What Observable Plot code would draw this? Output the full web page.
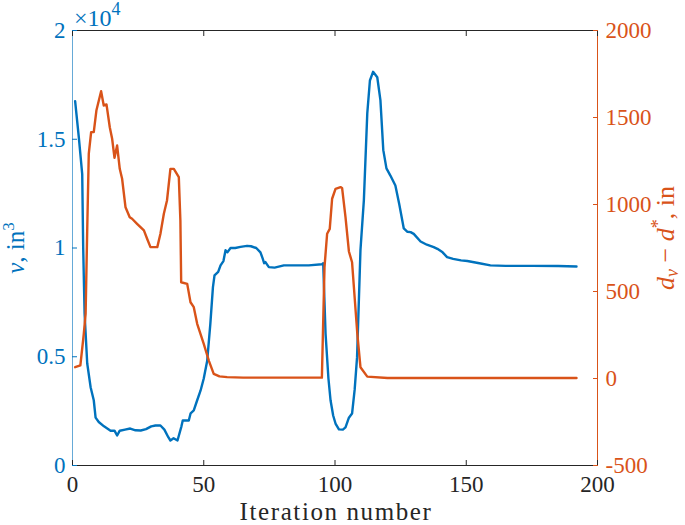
<!DOCTYPE html>
<html><head><meta charset="utf-8">
<script src="https://cdn.jsdelivr.net/npm/d3@7"></script>
<script src="https://cdn.jsdelivr.net/npm/@observablehq/plot@0.6"></script>
<style>body{margin:0;background:#fff} svg{display:block}</style>
</head><body><div id="chart"></div>
<script>
// Blue series: volume v (in^3) per iteration
const vIter = [1,2.4,3.7,4.07,4.6,5.6,6.9,8.1,8.8,10,12,14.5,16,17,18,20,22,24,26,28,30,31.6,33.5,35,36.5,37.3,38.5,40,41.5,42,44.3,45,46.2,47.5,48.8,50,51.3,52.5,53.5,54.1,55.5,56.4,57.5,58.3,59,60.2,62,64,66.5,68,70,71.6,72.5,73,73.5,74.8,77,80.5,85,90,95,95.5,96.4,97.5,98.3,99.3,100.2,101.5,103,104,105.3,106.5,107.5,108.4,109.7,111,112.3,113.3,114.5,116.1,117.3,118.4,119.6,121.1,123,124.5,126.2,127.5,128.8,130,132.6,135,137.6,139,141,142.7,145,148,150.4,155,159.2,165,175,185,192];
const vValue = [16750,15100,13400,10040,7000,4700,3600,3000,2200,2000,1800,1600,1600,1380,1600,1650,1700,1620,1610,1670,1800,1840,1840,1650,1300,1150,1250,1150,1800,2070,2070,2400,2530,3000,3450,4000,4800,6500,8200,8740,8900,9200,9400,9900,9800,10000,10000,10050,10100,10080,10000,9800,9500,9300,9350,9120,9100,9200,9200,9200,9250,9300,6070,4000,3000,2300,1930,1660,1650,1750,2200,2390,3500,4970,9900,12200,16200,17700,18100,17850,16800,14500,13660,13330,12870,12000,10900,10750,10730,10650,10300,10150,10040,9960,9800,9580,9500,9430,9400,9300,9200,9180,9180,9170,9150];

// Orange series: d_v - d* (in) per iteration
const dIter = [1,3,4.3,5,5.6,6.2,7.1,8.1,9.1,10.9,11.9,12.95,14.2,15.1,16,17,18,18.9,20.2,21.8,22.7,24.6,27.2,28.5,29.7,32.3,33.5,34.8,36,37.3,38.6,40.5,41.1,41.4,43.7,44.95,46.2,47.5,50,52,53.8,56,58.9,65,95,96,97,98,98.9,100.2,102.1,102.7,104,105.3,106.5,108.5,109.7,112.3,120,192];
const dValue = [65,75,257,373,850,1291,1416,1416,1540,1651,1569,1575,1444,1378,1268,1339,1205,1148,984,927,918,889,851,800,755,755,832,947,1023,1205,1205,1157,908,553,544,438,410,314,199,100,27,12,8,5,5,640,832,860,1033,1090,1100,1095,927,730,668,257,65,11,3,3];

const xTicks = [0, 50, 100, 150, 200];
const leftTicks = [0, 0.5, 1, 1.5, 2];          // ×10^4
const rightTicks = [-500, 0, 500, 1000, 1500, 2000];

const BLUE = "#0072BD", ORANGE = "#D95319", DARK = "#262626";
const FONT = "'Liberation Serif', 'Times New Roman', serif";
const toLeft = d => (d + 500) / 2500 * 2;
const fromLeft = v => Math.round(v / 2 * 2500 - 500);

const vData = vIter.map((x, i) => ({x, y: vValue[i] / 1e4}));
const dData = dIter.map((x, i) => ({x, y: toLeft(dValue[i])}));

const plot = Plot.plot({
  width: 685, height: 525,
  marginLeft: 72, marginRight: 88, marginTop: 30, marginBottom: 60,
  style: {fontFamily: FONT, fontSize: "23px", background: "white", overflow: "visible"},
  x: {domain: [0, 200]},
  y: {domain: [0, 2]},
  marks: [
    Plot.line(vData, {x: "x", y: "y", stroke: BLUE, strokeWidth: 2.4}),
    Plot.line(dData, {x: "x", y: "y", stroke: ORANGE, strokeWidth: 2.4}),
    Plot.ruleY([0, 2], {stroke: DARK, strokeWidth: 1}),
    Plot.ruleX([0], {stroke: BLUE, strokeWidth: 1, strokeOpacity: 0.6}),
    Plot.ruleX([200], {stroke: ORANGE, strokeWidth: 1}),
    Plot.axisX({anchor: "bottom", ticks: xTicks, tickSize: -5, tickPadding: 15, tickFormat: d => String(d), label: null, stroke: DARK, fill: DARK}),
    Plot.axisX({anchor: "top", ticks: xTicks, tickSize: -5, tickFormat: () => "", label: null, stroke: DARK}),
    Plot.axisY({anchor: "left", ticks: leftTicks, tickSize: -5, tickPadding: 12, tickFormat: d => String(d), label: null, stroke: BLUE, fill: BLUE}),
    Plot.axisY({anchor: "right", ticks: rightTicks.map(toLeft), tickSize: -5, tickPadding: 13, tickFormat: v => String(fromLeft(v)), label: null, stroke: ORANGE, fill: ORANGE})
  ]
});
document.getElementById("chart").appendChild(plot);

const svg = d3.select(plot);
// x label
svg.append("text").attr("x", 336).attr("y", 520).attr("text-anchor", "middle")
  .attr("font-family", FONT).attr("font-size", 25).attr("letter-spacing", 1.6).attr("fill", DARK)
  .text("Iteration number");
// ×10^4
const ex = svg.append("text").attr("x", 74).attr("y", 26).attr("text-anchor", "start")
  .attr("font-family", FONT).attr("font-size", 24).attr("fill", BLUE);
ex.append("tspan").text("×10");
ex.append("tspan").attr("dy", -11).attr("font-size", 18).text("4");
// left label
const ll = svg.append("text").attr("transform", "translate(24,248) rotate(-90)").attr("text-anchor", "middle")
  .attr("font-family", FONT).attr("font-size", 25).attr("fill", BLUE);
ll.append("tspan").attr("font-style", "italic").text("v");
ll.append("tspan").text(", in");
ll.append("tspan").attr("dy", -10).attr("font-size", 17).text("3");
// right label
const rl = svg.append("text").attr("transform", "translate(674,238) rotate(-90)").attr("text-anchor", "middle")
  .attr("font-family", FONT).attr("font-size", 26).attr("fill", ORANGE);
rl.append("tspan").attr("font-style", "italic").text("d");
rl.append("tspan").attr("font-style", "italic").attr("font-size", 18).attr("dy", 4).text("v");
rl.append("tspan").attr("dy", -4).text(" − ");
rl.append("tspan").attr("font-style", "italic").text("d");
rl.append("tspan").attr("font-size", 18).attr("dy", -10).text("*");
rl.append("tspan").attr("dy", 10).text(", in");
</script>
</body></html>
